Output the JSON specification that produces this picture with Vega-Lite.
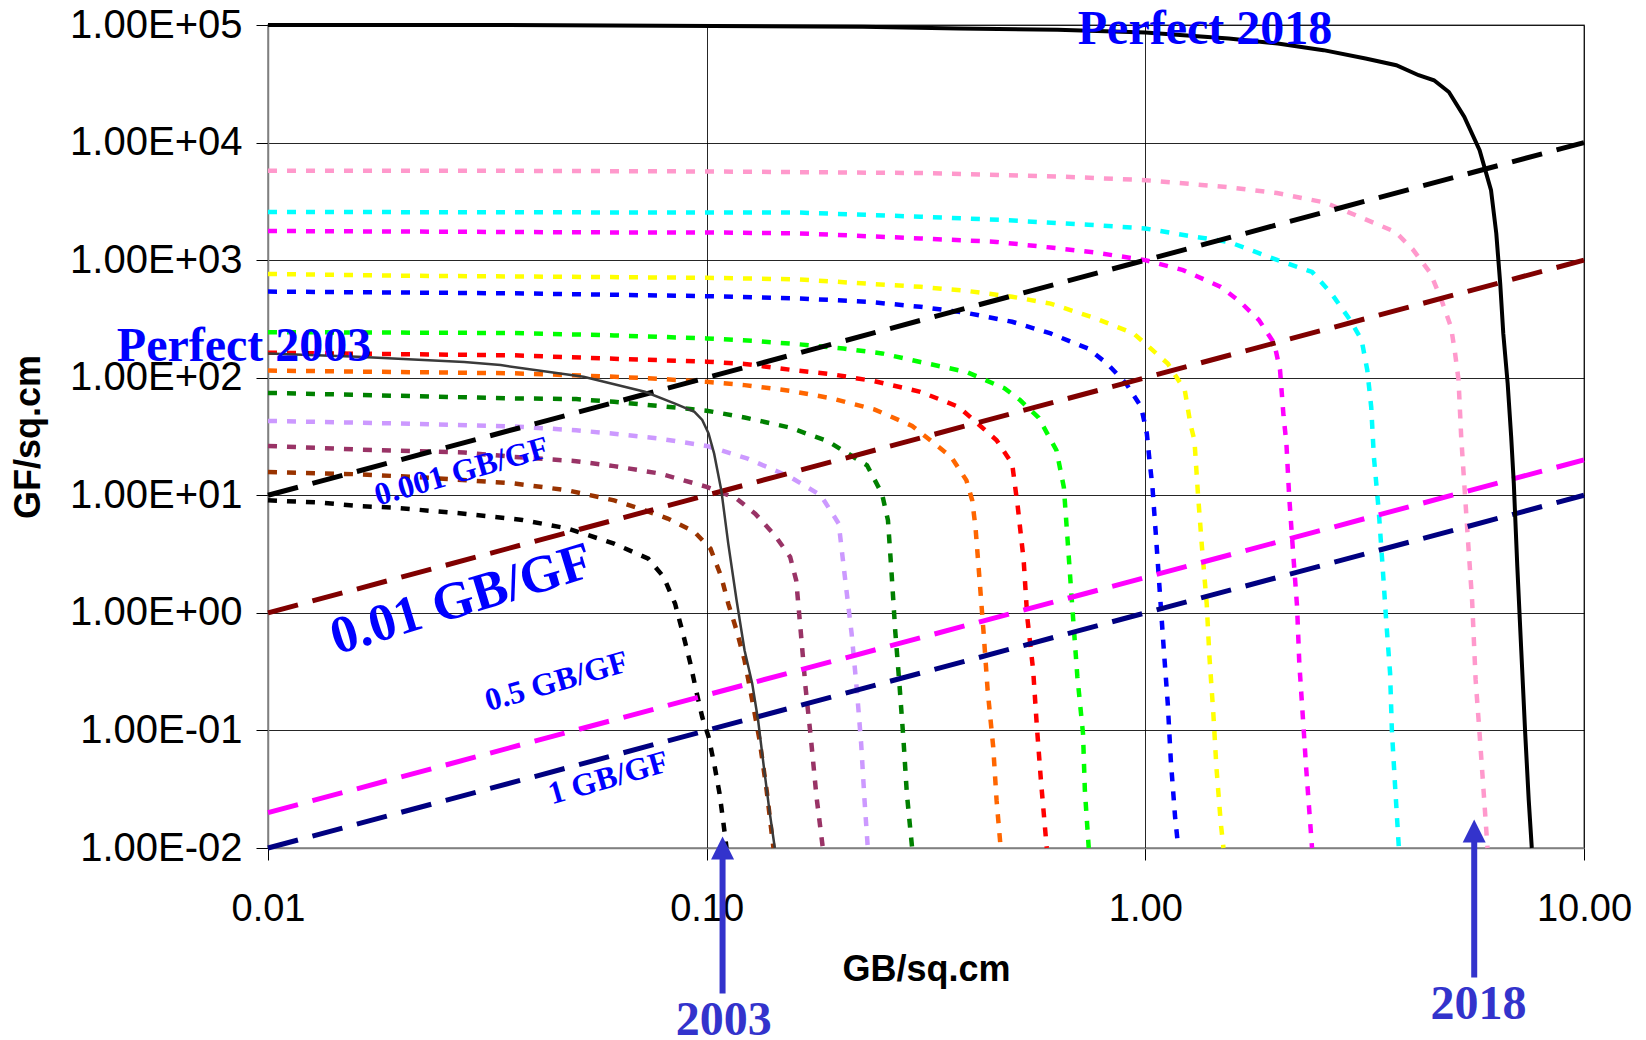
{
  "$schema": "https://vega.github.io/schema/vega-lite/v6.json",
  "width": 1316,
  "height": 823,
  "autosize": {"type": "none"},
  "padding": {"left": 268, "top": 25, "right": 62, "bottom": 192},
  "background": "white",
  "config": {
    "view": {"stroke": "#808080", "strokeWidth": 1.5},
    "axis": {
      "grid": true,
      "gridColor": "#000000",
      "gridWidth": 1,
      "gridOpacity": 0.85,
      "domainColor": "#808080",
      "domainWidth": 1.5,
      "tickColor": "#000000",
      "tickSize": 12,
      "labelFont": "Liberation Sans",
      "labelFontSize": 38,
      "labelColor": "#000000",
      "titleFont": "Liberation Sans",
      "titleFontSize": 36,
      "titleFontWeight": "bold",
      "titleColor": "#000000",
      "labelOverlap": false
    }
  },
  "datasets": {
    "dotted": [
      {"s": "c01", "x": 0.01, "y": 9.06}, {"s": "c01", "x": 0.0132, "y": 8.67}, {"s": "c01", "x": 0.016, "y": 8.11}, {"s": "c01", "x": 0.0193, "y": 7.85}, {"s": "c01", "x": 0.028, "y": 6.98}, {"s": "c01", "x": 0.038, "y": 6.17}, {"s": "c01", "x": 0.0483, "y": 5.21}, {"s": "c01", "x": 0.0615, "y": 3.88}, {"s": "c01", "x": 0.0736, "y": 2.89}, {"s": "c01", "x": 0.0798, "y": 2.02}, {"s": "c01", "x": 0.0847, "y": 1.2}, {"s": "c01", "x": 0.0883, "y": 0.667}, {"s": "c01", "x": 0.0918, "y": 0.371}, {"s": "c01", "x": 0.0946, "y": 0.22}, {"s": "c01", "x": 0.0977, "y": 0.13}, {"s": "c01", "x": 0.101, "y": 0.0881}, {"s": "c01", "x": 0.104, "y": 0.0522}, {"s": "c01", "x": 0.107, "y": 0.029}, {"s": "c01", "x": 0.109, "y": 0.0172}, {"s": "c01", "x": 0.111, "y": 0.01},
      {"s": "c02", "x": 0.01, "y": 15.8}, {"s": "c02", "x": 0.016, "y": 15.1}, {"s": "c02", "x": 0.0233, "y": 14.1}, {"s": "c02", "x": 0.0365, "y": 12.6}, {"s": "c02", "x": 0.0483, "y": 11.0}, {"s": "c02", "x": 0.0615, "y": 9.06}, {"s": "c02", "x": 0.0723, "y": 7.45}, {"s": "c02", "x": 0.0815, "y": 6.34}, {"s": "c02", "x": 0.0938, "y": 4.88}, {"s": "c02", "x": 0.102, "y": 3.52}, {"s": "c02", "x": 0.108, "y": 2.02}, {"s": "c02", "x": 0.112, "y": 1.2}, {"s": "c02", "x": 0.117, "y": 0.711}, {"s": "c02", "x": 0.122, "y": 0.395}, {"s": "c02", "x": 0.127, "y": 0.181}, {"s": "c02", "x": 0.132, "y": 0.0826}, {"s": "c02", "x": 0.137, "y": 0.031}, {"s": "c02", "x": 0.141, "y": 0.0124}, {"s": "c02", "x": 0.142, "y": 0.01},
      {"s": "c03", "x": 0.01, "y": 26.3}, {"s": "c03", "x": 0.016, "y": 24.5}, {"s": "c03", "x": 0.028, "y": 23.1}, {"s": "c03", "x": 0.0365, "y": 21.2}, {"s": "c03", "x": 0.0504, "y": 19.5}, {"s": "c03", "x": 0.0615, "y": 17.7}, {"s": "c03", "x": 0.0783, "y": 15.3}, {"s": "c03", "x": 0.1, "y": 11.8}, {"s": "c03", "x": 0.117, "y": 9.38}, {"s": "c03", "x": 0.129, "y": 6.98}, {"s": "c03", "x": 0.143, "y": 4.57}, {"s": "c03", "x": 0.155, "y": 2.99}, {"s": "c03", "x": 0.16, "y": 1.89}, {"s": "c03", "x": 0.164, "y": 0.667}, {"s": "c03", "x": 0.168, "y": 0.234}, {"s": "c03", "x": 0.173, "y": 0.0826}, {"s": "c03", "x": 0.178, "y": 0.0272}, {"s": "c03", "x": 0.184, "y": 0.01},
      {"s": "c04", "x": 0.01, "y": 42.9}, {"s": "c04", "x": 0.0193, "y": 40.9}, {"s": "c04", "x": 0.0365, "y": 38.5}, {"s": "c04", "x": 0.0504, "y": 35.7}, {"s": "c04", "x": 0.0615, "y": 33.4}, {"s": "c04", "x": 0.0783, "y": 30.3}, {"s": "c04", "x": 0.1, "y": 26.3}, {"s": "c04", "x": 0.124, "y": 20.5}, {"s": "c04", "x": 0.155, "y": 14.3}, {"s": "c04", "x": 0.182, "y": 10}, {"s": "c04", "x": 0.2, "y": 5.74}, {"s": "c04", "x": 0.207, "y": 1.89}, {"s": "c04", "x": 0.214, "y": 0.667}, {"s": "c04", "x": 0.22, "y": 0.22}, {"s": "c04", "x": 0.225, "y": 0.0773}, {"s": "c04", "x": 0.229, "y": 0.0255}, {"s": "c04", "x": 0.233, "y": 0.01},
      {"s": "c05", "x": 0.01, "y": 74.3}, {"s": "c05", "x": 0.0365, "y": 66.7}, {"s": "c05", "x": 0.0504, "y": 65.8}, {"s": "c05", "x": 0.0615, "y": 62.4}, {"s": "c05", "x": 0.0783, "y": 57.4}, {"s": "c05", "x": 0.1, "y": 52.4}, {"s": "c05", "x": 0.122, "y": 45.9}, {"s": "c05", "x": 0.155, "y": 37.6}, {"s": "c05", "x": 0.189, "y": 28.8}, {"s": "c05", "x": 0.232, "y": 18.0}, {"s": "c05", "x": 0.251, "y": 10.3}, {"s": "c05", "x": 0.259, "y": 6.12}, {"s": "c05", "x": 0.264, "y": 2.16}, {"s": "c05", "x": 0.269, "y": 0.711}, {"s": "c05", "x": 0.275, "y": 0.251}, {"s": "c05", "x": 0.281, "y": 0.0826}, {"s": "c05", "x": 0.286, "y": 0.029}, {"s": "c05", "x": 0.294, "y": 0.01},
      {"s": "c06", "x": 0.01, "y": 115}, {"s": "c06", "x": 0.0365, "y": 109}, {"s": "c06", "x": 0.0615, "y": 102}, {"s": "c06", "x": 0.0783, "y": 97.7}, {"s": "c06", "x": 0.1, "y": 92.3}, {"s": "c06", "x": 0.122, "y": 86.5}, {"s": "c06", "x": 0.155, "y": 77.4}, {"s": "c06", "x": 0.193, "y": 66.7}, {"s": "c06", "x": 0.241, "y": 53.8}, {"s": "c06", "x": 0.294, "y": 38.9}, {"s": "c06", "x": 0.361, "y": 21.2}, {"s": "c06", "x": 0.391, "y": 13.4}, {"s": "c06", "x": 0.403, "y": 9.06}, {"s": "c06", "x": 0.41, "y": 5.38}, {"s": "c06", "x": 0.419, "y": 1.89}, {"s": "c06", "x": 0.428, "y": 0.667}, {"s": "c06", "x": 0.437, "y": 0.22}, {"s": "c06", "x": 0.45, "y": 0.0724}, {"s": "c06", "x": 0.458, "y": 0.0255}, {"s": "c06", "x": 0.468, "y": 0.01},
      {"s": "c07", "x": 0.01, "y": 163}, {"s": "c07", "x": 0.0365, "y": 155}, {"s": "c07", "x": 0.0615, "y": 145}, {"s": "c07", "x": 0.1, "y": 137}, {"s": "c07", "x": 0.122, "y": 131}, {"s": "c07", "x": 0.155, "y": 117}, {"s": "c07", "x": 0.193, "y": 107}, {"s": "c07", "x": 0.241, "y": 93.5}, {"s": "c07", "x": 0.307, "y": 75.9}, {"s": "c07", "x": 0.375, "y": 56.6}, {"s": "c07", "x": 0.406, "y": 43.7}, {"s": "c07", "x": 0.458, "y": 29.4}, {"s": "c07", "x": 0.497, "y": 18.6}, {"s": "c07", "x": 0.512, "y": 7.94}, {"s": "c07", "x": 0.528, "y": 2.8}, {"s": "c07", "x": 0.538, "y": 0.923}, {"s": "c07", "x": 0.555, "y": 0.325}, {"s": "c07", "x": 0.566, "y": 0.107}, {"s": "c07", "x": 0.578, "y": 0.0378}, {"s": "c07", "x": 0.596, "y": 0.01},
      {"s": "c08", "x": 0.01, "y": 244}, {"s": "c08", "x": 0.0365, "y": 240}, {"s": "c08", "x": 0.0615, "y": 229}, {"s": "c08", "x": 0.1, "y": 216}, {"s": "c08", "x": 0.127, "y": 206}, {"s": "c08", "x": 0.161, "y": 193}, {"s": "c08", "x": 0.205, "y": 177}, {"s": "c08", "x": 0.251, "y": 161}, {"s": "c08", "x": 0.307, "y": 136}, {"s": "c08", "x": 0.391, "y": 112}, {"s": "c08", "x": 0.478, "y": 81.1}, {"s": "c08", "x": 0.518, "y": 64.6}, {"s": "c08", "x": 0.571, "y": 45.7}, {"s": "c08", "x": 0.627, "y": 24.2}, {"s": "c08", "x": 0.652, "y": 11.7}, {"s": "c08", "x": 0.665, "y": 4.14}, {"s": "c08", "x": 0.679, "y": 1.36}, {"s": "c08", "x": 0.7, "y": 0.285}, {"s": "c08", "x": 0.721, "y": 0.094}, {"s": "c08", "x": 0.728, "y": 0.031}, {"s": "c08", "x": 0.743, "y": 0.01},
      {"s": "c09", "x": 0.01, "y": 540}, {"s": "c09", "x": 0.0365, "y": 522}, {"s": "c09", "x": 0.1, "y": 494}, {"s": "c09", "x": 0.162, "y": 472}, {"s": "c09", "x": 0.232, "y": 443}, {"s": "c09", "x": 0.307, "y": 401}, {"s": "c09", "x": 0.391, "y": 356}, {"s": "c09", "x": 0.497, "y": 299}, {"s": "c09", "x": 0.608, "y": 238}, {"s": "c09", "x": 0.74, "y": 177}, {"s": "c09", "x": 0.818, "y": 132}, {"s": "c09", "x": 0.904, "y": 89.1}, {"s": "c09", "x": 0.978, "y": 56.6}, {"s": "c09", "x": 1.008, "y": 33.5}, {"s": "c09", "x": 1.022, "y": 19.9}, {"s": "c09", "x": 1.038, "y": 11.8}, {"s": "c09", "x": 1.059, "y": 4.14}, {"s": "c09", "x": 1.081, "y": 1.36}, {"s": "c09", "x": 1.102, "y": 0.481}, {"s": "c09", "x": 1.125, "y": 0.169}, {"s": "c09", "x": 1.143, "y": 0.0558}, {"s": "c09", "x": 1.169, "y": 0.0184}, {"s": "c09", "x": 1.189, "y": 0.01},
      {"s": "c10", "x": 0.01, "y": 764}, {"s": "c10", "x": 0.0193, "y": 738}, {"s": "c10", "x": 0.1, "y": 708}, {"s": "c10", "x": 0.162, "y": 686}, {"s": "c10", "x": 0.232, "y": 631}, {"s": "c10", "x": 0.307, "y": 593}, {"s": "c10", "x": 0.391, "y": 548}, {"s": "c10", "x": 0.497, "y": 488}, {"s": "c10", "x": 0.608, "y": 427}, {"s": "c10", "x": 0.769, "y": 320}, {"s": "c10", "x": 0.94, "y": 238}, {"s": "c10", "x": 1.019, "y": 183}, {"s": "c10", "x": 1.125, "y": 132}, {"s": "c10", "x": 1.23, "y": 78.5}, {"s": "c10", "x": 1.268, "y": 39.8}, {"s": "c10", "x": 1.294, "y": 29.4}, {"s": "c10", "x": 1.318, "y": 10.3}, {"s": "c10", "x": 1.346, "y": 3.64}, {"s": "c10", "x": 1.38, "y": 1.2}, {"s": "c10", "x": 1.4, "y": 0.422}, {"s": "c10", "x": 1.429, "y": 0.139}, {"s": "c10", "x": 1.452, "y": 0.049}, {"s": "c10", "x": 1.486, "y": 0.0162}, {"s": "c10", "x": 1.507, "y": 0.01},
      {"s": "c11", "x": 0.01, "y": 1770}, {"s": "c11", "x": 0.064, "y": 1720}, {"s": "c11", "x": 0.1, "y": 1720}, {"s": "c11", "x": 0.162, "y": 1690}, {"s": "c11", "x": 0.307, "y": 1530}, {"s": "c11", "x": 0.458, "y": 1430}, {"s": "c11", "x": 0.608, "y": 1280}, {"s": "c11", "x": 0.769, "y": 1160}, {"s": "c11", "x": 1.0, "y": 1000}, {"s": "c11", "x": 1.219, "y": 822}, {"s": "c11", "x": 1.486, "y": 593}, {"s": "c11", "x": 1.644, "y": 443}, {"s": "c11", "x": 1.816, "y": 309}, {"s": "c11", "x": 1.968, "y": 195}, {"s": "c11", "x": 2.028, "y": 116}, {"s": "c11", "x": 2.065, "y": 47.9}, {"s": "c11", "x": 2.097, "y": 27.5}, {"s": "c11", "x": 2.128, "y": 9.68}, {"s": "c11", "x": 2.173, "y": 3.19}, {"s": "c11", "x": 2.218, "y": 1.12}, {"s": "c11", "x": 2.244, "y": 0.372}, {"s": "c11", "x": 2.286, "y": 0.13}, {"s": "c11", "x": 2.328, "y": 0.0459}, {"s": "c11", "x": 2.399, "y": 0.01},
      {"s": "c12", "x": 0.01, "y": 2570}, {"s": "c12", "x": 0.1, "y": 2540}, {"s": "c12", "x": 0.162, "y": 2540}, {"s": "c12", "x": 0.307, "y": 2340}, {"s": "c12", "x": 0.479, "y": 2190}, {"s": "c12", "x": 0.741, "y": 2000}, {"s": "c12", "x": 1.0, "y": 1860}, {"s": "c12", "x": 1.242, "y": 1620}, {"s": "c12", "x": 1.549, "y": 1430}, {"s": "c12", "x": 2.004, "y": 1000}, {"s": "c12", "x": 2.399, "y": 794}, {"s": "c12", "x": 2.655, "y": 521}, {"s": "c12", "x": 2.931, "y": 309}, {"s": "c12", "x": 3.112, "y": 209}, {"s": "c12", "x": 3.206, "y": 116}, {"s": "c12", "x": 3.273, "y": 56.2}, {"s": "c12", "x": 3.319, "y": 21.2}, {"s": "c12", "x": 3.404, "y": 7.45}, {"s": "c12", "x": 3.475, "y": 2.46}, {"s": "c12", "x": 3.54, "y": 0.865}, {"s": "c12", "x": 3.614, "y": 0.305}, {"s": "c12", "x": 3.648, "y": 0.1}, {"s": "c12", "x": 3.707, "y": 0.0353}, {"s": "c12", "x": 3.784, "y": 0.01},
      {"s": "c13", "x": 0.01, "y": 5750}, {"s": "c13", "x": 0.0363, "y": 5750}, {"s": "c13", "x": 0.1, "y": 5680}, {"s": "c13", "x": 0.316, "y": 5500}, {"s": "c13", "x": 0.631, "y": 5150}, {"s": "c13", "x": 1.0, "y": 4790}, {"s": "c13", "x": 1.549, "y": 4170}, {"s": "c13", "x": 1.995, "y": 3720}, {"s": "c13", "x": 2.57, "y": 3090}, {"s": "c13", "x": 3.162, "y": 2240}, {"s": "c13", "x": 3.715, "y": 1740}, {"s": "c13", "x": 4.074, "y": 1230}, {"s": "c13", "x": 4.467, "y": 776}, {"s": "c13", "x": 4.732, "y": 457}, {"s": "c13", "x": 4.977, "y": 269}, {"s": "c13", "x": 5.082, "y": 162}, {"s": "c13", "x": 5.176, "y": 95.5}, {"s": "c13", "x": 5.248, "y": 31.6}, {"s": "c13", "x": 5.445, "y": 3.89}, {"s": "c13", "x": 5.559, "y": 1.26}, {"s": "c13", "x": 5.662, "y": 0.269}, {"s": "c13", "x": 5.781, "y": 0.0933}, {"s": "c13", "x": 5.902, "y": 0.0309}, {"s": "c13", "x": 6.026, "y": 0.01}
    ],
    "ratios": [
      {"s": "0.001 GB/GF", "x": 0.01, "y": 10}, {"s": "0.001 GB/GF", "x": 10, "y": 10000},
      {"s": "0.01 GB/GF", "x": 0.01, "y": 1}, {"s": "0.01 GB/GF", "x": 10, "y": 1000},
      {"s": "0.5 GB/GF", "x": 0.01, "y": 0.02}, {"s": "0.5 GB/GF", "x": 10, "y": 20},
      {"s": "1 GB/GF", "x": 0.01, "y": 0.01}, {"s": "1 GB/GF", "x": 10, "y": 10}
    ],
    "perfect": [
      {"s": "Perfect 2003", "x": 0.01, "y": 161}, {"s": "Perfect 2003", "x": 0.016, "y": 151}, {"s": "Perfect 2003", "x": 0.028, "y": 136}, {"s": "Perfect 2003", "x": 0.0339, "y": 128}, {"s": "Perfect 2003", "x": 0.0524, "y": 102}, {"s": "Perfect 2003", "x": 0.0723, "y": 75.9}, {"s": "Perfect 2003", "x": 0.0847, "y": 60.3}, {"s": "Perfect 2003", "x": 0.0938, "y": 51.3}, {"s": "Perfect 2003", "x": 0.0977, "y": 43.7}, {"s": "Perfect 2003", "x": 0.101, "y": 33.6}, {"s": "Perfect 2003", "x": 0.104, "y": 22.6}, {"s": "Perfect 2003", "x": 0.108, "y": 11.0}, {"s": "Perfect 2003", "x": 0.112, "y": 3.88}, {"s": "Perfect 2003", "x": 0.117, "y": 1.28}, {"s": "Perfect 2003", "x": 0.122, "y": 0.481}, {"s": "Perfect 2003", "x": 0.127, "y": 0.251}, {"s": "Perfect 2003", "x": 0.131, "y": 0.122}, {"s": "Perfect 2003", "x": 0.135, "y": 0.049}, {"s": "Perfect 2003", "x": 0.139, "y": 0.0209}, {"s": "Perfect 2003", "x": 0.143, "y": 0.01},
      {"s": "Perfect 2018", "x": 0.01, "y": 100000}, {"s": "Perfect 2018", "x": 0.0316, "y": 100000}, {"s": "Perfect 2018", "x": 0.227, "y": 96600}, {"s": "Perfect 2018", "x": 0.375, "y": 93300}, {"s": "Perfect 2018", "x": 0.631, "y": 91200}, {"s": "Perfect 2018", "x": 1.0, "y": 86300}, {"s": "Perfect 2018", "x": 1.549, "y": 76700}, {"s": "Perfect 2018", "x": 2.004, "y": 69500}, {"s": "Perfect 2018", "x": 2.547, "y": 61100}, {"s": "Perfect 2018", "x": 3.177, "y": 51900}, {"s": "Perfect 2018", "x": 3.733, "y": 45500}, {"s": "Perfect 2018", "x": 4.198, "y": 37400}, {"s": "Perfect 2018", "x": 4.55, "y": 33900}, {"s": "Perfect 2018", "x": 4.92, "y": 26900}, {"s": "Perfect 2018", "x": 5.333, "y": 16600}, {"s": "Perfect 2018", "x": 5.781, "y": 8610}, {"s": "Perfect 2018", "x": 6.138, "y": 3940}, {"s": "Perfect 2018", "x": 6.31, "y": 1690}, {"s": "Perfect 2018", "x": 6.442, "y": 631}, {"s": "Perfect 2018", "x": 6.546, "y": 238}, {"s": "Perfect 2018", "x": 6.699, "y": 89.1}, {"s": "Perfect 2018", "x": 6.823, "y": 31.6}, {"s": "Perfect 2018", "x": 6.918, "y": 12.6}, {"s": "Perfect 2018", "x": 7.047, "y": 2.46}, {"s": "Perfect 2018", "x": 7.194, "y": 0.481}, {"s": "Perfect 2018", "x": 7.345, "y": 0.094}, {"s": "Perfect 2018", "x": 7.482, "y": 0.0255}, {"s": "Perfect 2018", "x": 7.603, "y": 0.01}
    ],
    "arrows": [
      {"label": "2003", "x": 0.1087, "y": 0.000578, "y2": 0.0095},
      {"label": "2018", "x": 5.62, "y": 0.00079, "y2": 0.0141}
    ],
    "heads": [
      {"label": "2003", "x": 0.1087, "y": 0.0125},
      {"label": "2018", "x": 5.62, "y": 0.01746}
    ]
  },
  "encoding": {
    "x": {
      "field": "x",
      "type": "quantitative",
      "scale": {"type": "log", "domain": [0.01, 10], "nice": false},
      "axis": {
        "title": "GB/sq.cm",
        "values": [0.01, 0.1, 1, 10],
        "format": ".2f",
        "labelFlush": false,
        "labelPadding": 30,
        "titlePadding": 24
      }
    },
    "y": {
      "field": "y",
      "type": "quantitative",
      "scale": {"type": "log", "domain": [0.01, 100000], "nice": false},
      "axis": {
        "title": "GF/sq.cm",
        "values": [0.01, 0.1, 1, 10, 100, 1000, 10000, 100000],
        "labelExpr": "'1.00E' + (datum.value >= 1 ? '+' : '-') + '0' + abs(round(log(datum.value) / LN10))",
        "labelFontSize": 40,
        "labelPadding": 14,
        "titlePadding": 22
      }
    }
  },
  "layer": [
    {
      "data": {"name": "dotted"},
      "mark": {"type": "line", "strokeWidth": 4.5, "strokeDash": [9, 10], "strokeCap": "butt"},
      "encoding": {
        "color": {
          "field": "s",
          "type": "nominal",
          "scale": {
            "domain": ["c01", "c02", "c03", "c04", "c05", "c06", "c07", "c08", "c09", "c10", "c11", "c12", "c13"],
            "range": ["#000000", "#993300", "#993366", "#CC99FF", "#008000", "#FF6600", "#FF0000", "#00FF00", "#0000FF", "#FFFF00", "#FF00FF", "#00FFFF", "#FF99CC"]
          },
          "legend": null
        }
      }
    },
    {
      "data": {"name": "ratios"},
      "mark": {"type": "line", "strokeWidth": 5, "strokeDash": [31, 15], "strokeCap": "butt"},
      "encoding": {
        "color": {
          "field": "s",
          "type": "nominal",
          "scale": {
            "domain": ["0.001 GB/GF", "0.01 GB/GF", "0.5 GB/GF", "1 GB/GF"],
            "range": ["#000000", "#800000", "#FF00FF", "#000080"]
          },
          "legend": null
        }
      }
    },
    {
      "data": {"name": "perfect"},
      "transform": [{"filter": "datum.s === 'Perfect 2003'"}],
      "mark": {"type": "line", "strokeWidth": 2.5, "color": "#3a3a3a"},
      "encoding": {}
    },
    {
      "data": {"name": "perfect"},
      "transform": [{"filter": "datum.s === 'Perfect 2018'"}],
      "mark": {"type": "line", "strokeWidth": 4, "color": "#000000"},
      "encoding": {}
    },
    {
      "data": {"name": "arrows"},
      "mark": {"type": "rule", "strokeWidth": 6, "color": "#3333CC"},
      "encoding": {"y2": {"field": "y2"}}
    },
    {
      "data": {"name": "heads"},
      "mark": {"type": "point", "shape": "M0,0L1,2L-1,2Z", "size": 529, "filled": true, "color": "#3333CC", "opacity": 1, "strokeWidth": 0}
    },
    {
      "data": {"values": [
        {"label": "Perfect 2003", "x": 0.00882, "y": 138},
        {"label": "Perfect 2018", "x": 1.368, "y": 68500}
      ]},
      "mark": {"type": "text", "font": "Liberation Serif", "fontWeight": "bold", "fontSize": 48, "color": "#0000FF", "align": "center", "baseline": "alphabetic"},
      "encoding": {"text": {"field": "label"}}
    },
    {
      "data": {"values": [
        {"label": "0.01 GB/GF", "x": 0.02763, "y": 1.295}
      ]},
      "mark": {"type": "text", "font": "Liberation Serif", "fontWeight": "bold", "fontSize": 53, "color": "#0000FF", "align": "center", "baseline": "middle", "angle": 343},
      "encoding": {"text": {"field": "label"}}
    },
    {
      "data": {"values": [
        {"label": "0.001 GB/GF", "x": 0.02763, "y": 15.97},
        {"label": "0.5 GB/GF", "x": 0.0455, "y": 0.2615},
        {"label": "1 GB/GF", "x": 0.0597, "y": 0.03945}
      ]},
      "mark": {"type": "text", "font": "Liberation Serif", "fontWeight": "bold", "fontSize": 32, "color": "#0000FF", "align": "center", "baseline": "middle", "angle": 344},
      "encoding": {"text": {"field": "label"}}
    },
    {
      "data": {"values": [
        {"label": "2003", "x": 0.1094, "y": 0.000259},
        {"label": "2018", "x": 5.744, "y": 0.000354}
      ]},
      "mark": {"type": "text", "font": "Liberation Serif", "fontWeight": "bold", "fontSize": 48, "color": "#3333CC", "align": "center", "baseline": "alphabetic"},
      "encoding": {"text": {"field": "label"}}
    }
  ],
  "resolve": {"scale": {"color": "independent"}}
}
